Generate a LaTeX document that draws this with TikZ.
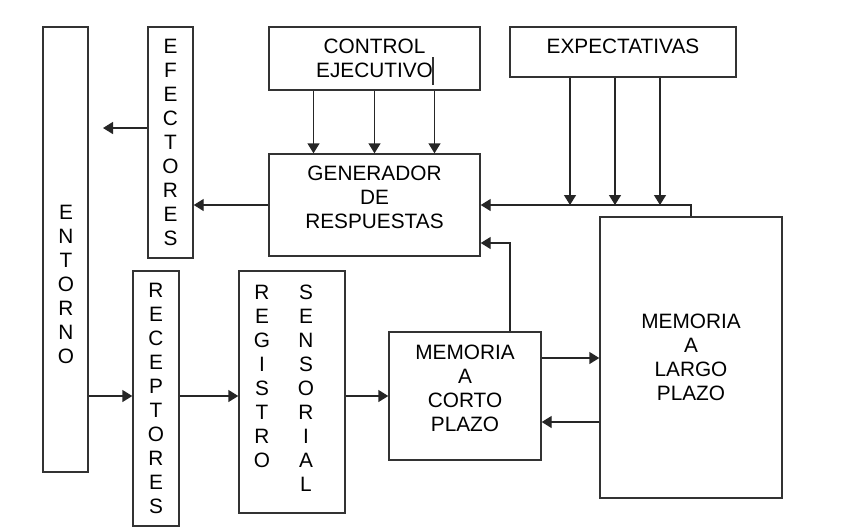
\documentclass[tikz,border=0pt]{standalone}
\usepackage{fontspec}
\setmainfont{Liberation Sans}
\usetikzlibrary{arrows.meta}
\tikzset{
  caja/.style={draw=black!80, line width=0.7pt, inner sep=0pt, align=center, font=\fontsize{10.4}{12}\selectfont},
  texto/.style={inner sep=0pt, align=center, font=\fontsize{10.4}{12}\selectfont},
  flecha/.style={-{Triangle[length=5pt,width=6pt]}, line width=0.7pt, draw=black!85},
}
\begin{document}
\begin{tikzpicture}[x=0.5pt,y=-0.5pt]
            \useasboundingbox (0,0) rectangle (841,531);
            % cajas
            \node[caja, minimum width=22.5pt, minimum height=222.5pt] (entorno) at (65.5,249.5) {};
            \node[texto] (entornoT) at (66,284) {E\\N\\T\\O\\R\\N\\O};
            \node[caja, minimum width=22.5pt, minimum height=115.5pt] (efectores) at (170.5,142.5) {E\\F\\E\\C\\T\\O\\R\\E\\S};
            \node[caja, minimum width=105.5pt, minimum height=31.5pt] (control) at (374.5,58.5) {CONTROL\\EJECUTIVO};
            \node[caja, minimum width=105.5pt, minimum height=51pt] (generador) at (374.5,205) {};
            \node[texto] (generadorT) at (374.5,197.5) {GENERADOR\\DE\\RESPUESTAS};
            \node[caja, minimum width=113pt, minimum height=25pt] (expect) at (623,52) {};
            \node[texto] (expectT) at (623,46) {EXPECTATIVAS};
            \node[caja, minimum width=91pt, minimum height=140.5pt] (largo) at (691,357.5) {MEMORIA\\A\\LARGO\\PLAZO};
            \node[caja, minimum width=76pt, minimum height=64pt] (corto) at (465,396) {};
            \node[texto] (cortoT) at (465,388.5) {MEMORIA\\A\\CORTO\\PLAZO};
            \node[caja, minimum width=23pt, minimum height=127.5pt] (receptores) at (156,398.5) {R\\E\\C\\E\\P\\T\\O\\R\\E\\S};
            \node[caja, minimum width=53pt, minimum height=121pt] (registro) at (292,392) {};
            \node[texto] (registroT) at (262,376.5) {R\\E\\G\\I\\S\\T\\R\\O};
            \node[texto] (sensorialT) at (306,388.5) {S\\E\\N\\S\\O\\R\\I\\A\\L};
            \draw[line width=0.6pt, black!80] (433,57) -- (433,85);
            % flechas
            \foreach \dx in {-30.5pt,0pt,30pt}
                \draw[flecha] ([xshift=\dx]control.south) -- ([xshift=\dx]generador.north);
            \foreach \dx in {-26.5pt,-4pt,18.5pt}
                \draw[flecha] ([xshift=\dx]expect.south) -- ([xshift=\dx]expect.south |- generador.east);
            \draw[flecha] (largo.north) |- (generador.east);
            \draw[flecha] ([xshift=22.5pt]corto.north) |- ([yshift=-19pt]generador.east);
            \draw[flecha] (generador.west) -- (generador.west -| efectores.east);
            \coordinate (afuera) at (103,128);
            \draw[flecha] (efectores.west |- afuera) -- (afuera);
            \draw[flecha] (entorno.east |- corto.west) -- (receptores.west |- corto.west);
            \draw[flecha] (receptores.east |- corto.west) -- (registro.west |- corto.west);
            \draw[flecha] (registro.east |- corto.west) -- (corto.west);
            \draw[flecha] ([yshift=19pt]corto.east) -- ([yshift=19pt]corto.east -| largo.west);
            \draw[flecha] ([yshift=-13pt]corto.east -| largo.west) -- ([yshift=-13pt]corto.east);
        \end{tikzpicture}
\end{document}
